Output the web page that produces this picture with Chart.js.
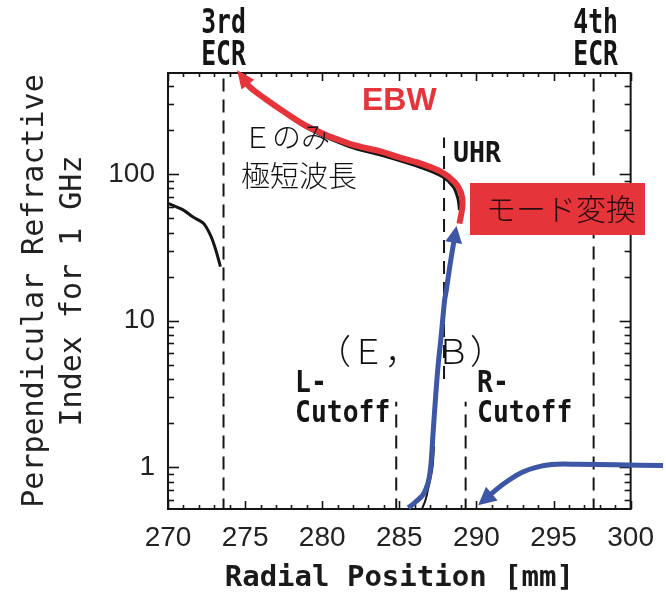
<!DOCTYPE html>
<html><head><meta charset="utf-8">
<script src="https://cdn.jsdelivr.net/npm/chart.js@4"></script>
<style>html,body{margin:0;padding:0;background:#fff}canvas{display:block}</style>
</head><body>
<canvas id="c" width="666" height="595"></canvas>
<script>
// ---------------- data ----------------
const xTickLabels = [270, 275, 280, 285, 290, 295, 300];
const yTickLabels = [1, 10, 100];

// resonance / cutoff positions [mm]
const ecr3X = 273.6;
const ecr4X = 297.6;
const uhrX = 287.9;
const lCutoffX = 284.8;
const rCutoffX = 289.3;
const uhrSpan = [4, 178];
const cutoffSpan = [0.5, 2.8];

// black dispersion curve left of 3rd ECR
const blackLeftX = [270.0, 271.0, 271.6, 272.3, 272.8, 273.1, 273.4];
const blackLeftY = [63.2, 56.9, 51.2, 46.2, 37.4, 30.4, 23.4];

// black dispersion curve (EBW branch, under red)
const blackEbwX = [277.4, 279.1, 281.7, 283.9, 286.4, 287.8, 288.5, 288.8, 288.9];
const blackEbwY = [268, 204, 155, 134, 111, 96, 82, 68, 57];

// black branch under the blue curve
const blackLowX = [286.4, 286.7, 286.95, 287.15, 287.25];
const blackLowY = [0.5, 0.6, 0.78, 1.0, 1.4];

// red EBW arrow (from mode conversion to the 3rd ECR)
const ebwX = [288.9, 289.1, 289.0, 288.6, 287.7, 286.4, 284.9, 283.9, 281.7, 279.1, 277.4, 276.3, 275.3, 274.95];
const ebwY = [46, 62, 75, 88, 104, 118, 131, 142, 162, 210, 272, 327, 393, 440];

// blue arrow (E,B) rising to UHR
const xbX = [285.58, 286.01, 286.55, 286.87, 287.04, 287.19, 287.34, 287.51, 287.73, 287.94, 288.05, 288.27, 288.48, 288.6];
const xbY = [0.53, 0.575, 0.655, 0.79, 1.02, 1.72, 2.9, 4.9, 8.2, 13.9, 16.2, 23.4, 32, 38];

// blue incoming wave from the outside
const inX = [302.1, 299.0, 296.5, 295.2, 294.2, 292.9, 291.6, 290.75];
const inY = [1.03, 1.04, 1.05, 1.05, 1.02, 0.92, 0.75, 0.63];

// ---------------- helpers ----------------
const RED = '#e5353b', BLUE = '#3d56a6', INK = '#151515';
const pts = (xs, ys) => xs.map((x, i) => ({x, y: ys[i]}));
const vline = (x, span) => [{x, y: span[0]}, {x, y: span[1]}];

const dashStyle = {borderColor: INK, borderWidth: 2, borderDash: [13, 8], pointRadius: 0, tension: 0, fill: false};

function condText(ctx, txt, x, y, font, sx, align, color) {
  ctx.save();
  ctx.translate(x, y);
  ctx.scale(sx, 1);
  ctx.font = font;
  ctx.textAlign = align || 'left';
  ctx.textBaseline = 'alphabetic';
  ctx.fillStyle = color || INK;
  ctx.fillText(txt, 0, 0);
  ctx.restore();
}

function arrowHead(ctx, meta, color, len, half, ahead) {
  const d = meta.data, n = d.length;
  const p = d[n - 1], q = d[n - 2];
  let dx = p.x - q.x, dy = p.y - q.y;
  const L = Math.hypot(dx, dy) || 1; dx /= L; dy /= L;
  const tx = p.x + dx * ahead, ty = p.y + dy * ahead;
  const bx = tx - dx * len, by = ty - dy * len;
  ctx.beginPath();
  ctx.moveTo(tx, ty);
  ctx.lineTo(bx - dy * half, by + dx * half);
  ctx.lineTo(bx + dy * half, by - dx * half);
  ctx.closePath();
  ctx.fillStyle = color;
  ctx.fill();
}

const framePlugin = {
  id: 'frame',
  beforeDatasetsDraw(chart) {
    const {ctx, chartArea: a, scales: {x, y}} = chart;
    ctx.save();
    ctx.strokeStyle = INK;
    ctx.lineWidth = 1.6;
    const seg = (x1, y1, x2, y2) => { ctx.beginPath(); ctx.moveTo(x1, y1); ctx.lineTo(x2, y2); ctx.stroke(); };
    for (let v = x.min; v <= x.max; v++) {
      const px = Math.round(x.getPixelForValue(v)) + 0.5;
      const L = v % 5 === 0 ? 8 : 4;
      seg(px, a.bottom, px, a.bottom - L);
      seg(px, a.top, px, a.top + L);
    }
    for (let e = -1; e <= 2; e++) {
      for (let m = 1; m <= 9; m++) {
        const v = m * Math.pow(10, e);
        if (v < y.min || v > y.max) continue;
        const py = Math.round(y.getPixelForValue(v)) + 0.5;
        const L = m === 1 ? 11 : 6;
        seg(a.left, py, a.left + L, py);
        seg(a.right, py, a.right - L, py);
      }
    }
    ctx.lineWidth = 2;
    ctx.strokeRect(a.left, a.top, a.right - a.left, a.bottom - a.top);
    ctx.restore();
  },
  afterDatasetsDraw(chart) {
    const {ctx, scales: {x}} = chart;
    ctx.save();
    // arrowheads
    arrowHead(ctx, chart.getDatasetMeta(2), RED, 18, 8, 12);
    arrowHead(ctx, chart.getDatasetMeta(0), BLUE, 17, 8.5, 10);
    arrowHead(ctx, chart.getDatasetMeta(1), BLUE, 18, 9, 13);

    const bold = (s) => 'bold ' + s + 'px "DejaVu Sans Mono", "Liberation Mono", monospace';
    const jp = (s) => '300 ' + s + 'px "Noto Sans CJK JP", "Noto Sans", sans-serif';

    // top labels for resonances
    const e3 = x.getPixelForValue(ecr3X), e4 = x.getPixelForValue(ecr4X);
    condText(ctx, '3rd', e3, 33, bold(33), 0.75, 'center');
    condText(ctx, 'ECR', e3, 65, bold(33), 0.75, 'center');
    condText(ctx, '4th', e4 + 2, 33, bold(33), 0.75, 'center');
    condText(ctx, 'ECR', e4 + 2, 65, bold(33), 0.75, 'center');

    // EBW
    ctx.font = 'bold 32px "Liberation Sans", Arial, sans-serif';
    ctx.fillStyle = RED; ctx.textAlign = 'left'; ctx.textBaseline = 'alphabetic';
    ctx.fillText('EBW', 362, 110);

    // Japanese notes
    ctx.font = jp(29);
    ctx.fillStyle = '#111';
    ctx.fillText('Ｅのみ', 243, 148);
    ctx.fillText('極短波長', 241, 187);
    ctx.font = jp(34);
    ctx.fillText('（Ｅ，　Ｂ）', 317, 364);

    // UHR / cutoff labels
    condText(ctx, 'UHR', 453, 162, bold(28), 0.95, 'left');
    condText(ctx, 'L-', 295, 392, bold(30), 0.88, 'left');
    condText(ctx, 'Cutoff', 295, 422, bold(30), 0.88, 'left');
    condText(ctx, 'R-', 477, 392, bold(30), 0.88, 'left');
    condText(ctx, 'Cutoff', 477, 422, bold(30), 0.88, 'left');

    // mode conversion box
    ctx.fillStyle = RED;
    ctx.fillRect(470, 183, 175, 52);
    ctx.font = jp(30);
    ctx.fillStyle = '#2a0d0d';
    ctx.fillText('モード変換', 486, 220);
    ctx.restore();
  }
};

new Chart(document.getElementById('c'), {
  type: 'line',
  data: {
    datasets: [
      {data: pts(xbX, xbY), borderColor: BLUE, borderWidth: 5, pointRadius: 0, tension: 0.3, clip: false},
      {data: pts(inX, inY), borderColor: BLUE, borderWidth: 5, pointRadius: 0, tension: 0.35, clip: false},
      {data: pts(ebwX, ebwY), borderColor: RED, borderWidth: 6, pointRadius: 0, tension: 0.35, clip: false},
      {data: pts(blackEbwX, blackEbwY), borderColor: INK, borderWidth: 3, pointRadius: 0, tension: 0.35},
      {data: pts(blackLowX, blackLowY), borderColor: INK, borderWidth: 2, pointRadius: 0, tension: 0.3},
      {data: pts(blackLeftX, blackLeftY), borderColor: INK, borderWidth: 3, pointRadius: 0, tension: 0.3},
      Object.assign({data: vline(ecr3X, [0.5, 500])}, dashStyle),
      Object.assign({data: vline(ecr4X, [0.5, 500])}, dashStyle),
      Object.assign({data: vline(uhrX, uhrSpan)}, dashStyle),
      Object.assign({data: vline(lCutoffX, cutoffSpan)}, dashStyle),
      Object.assign({data: vline(rCutoffX, cutoffSpan)}, dashStyle)
    ]
  },
  options: {
    responsive: false,
    animation: false,
    events: [],
    devicePixelRatio: 1,
    layout: {padding: {top: 73, right: 32, left: 0, bottom: 0}},
    plugins: {legend: {display: false}, tooltip: {enabled: false}},
    scales: {
      x: {
        type: 'linear', position: 'bottom', min: 270, max: 300,
        afterFit: (s) => { s.height = 86; },
        afterBuildTicks: (s) => { s.ticks = xTickLabels.map(v => ({value: v})); },
        grid: {display: false, drawTicks: false},
        border: {display: false},
        ticks: {padding: 12, autoSkip: false, maxRotation: 0, color: '#222',
          font: {family: '"Liberation Sans Narrow", "Arial Narrow", "Liberation Sans", sans-serif', size: 28}},
        title: {display: true, text: 'Radial Position [mm]', color: '#1a1a1a',
          font: {family: '"DejaVu Sans Mono", "Liberation Mono", monospace', size: 29, weight: 'bold', lineHeight: 1},
          padding: {top: 0, bottom: 2}}
      },
      y: {
        type: 'logarithmic', position: 'left', min: 0.52, max: 490,
        afterFit: (s) => { s.width = 168; },
        afterBuildTicks: (s) => { s.ticks = yTickLabels.map(v => ({value: v})); },
        grid: {display: false, drawTicks: false},
        border: {display: false},
        ticks: {padding: 13, autoSkip: false, color: '#222',
          callback: (v) => String(v),
          font: {family: '"Liberation Sans Narrow", "Arial Narrow", "Liberation Sans", sans-serif', size: 28}},
        title: {display: true, text: ['Perpendicular Refractive', 'Index for 1 GHz'], color: '#222',
          font: {family: '"DejaVu Sans Mono", "Liberation Mono", monospace', size: 30, lineHeight: 1.28},
          padding: {top: 16, bottom: 0}}
      }
    }
  },
  plugins: [framePlugin]
});
</script>
</body></html>
